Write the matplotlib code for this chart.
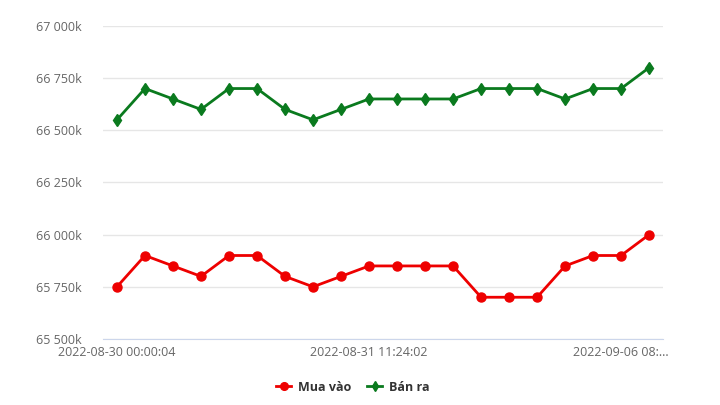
import matplotlib.pyplot as plt
from matplotlib.ticker import FuncFormatter

# gia vang (nghin dong)
times = ["2022-08-30 00:00:04"] + [""] * 8 + ["2022-08-31 11:24:02"] + [""] * 8 + ["2022-09-06 08:..."] + [""]
mua_vao = [65750, 65900, 65850, 65800, 65900, 65900, 65800, 65750, 65800, 65850,
           65850, 65850, 65850, 65700, 65700, 65700, 65850, 65900, 65900, 66000]
ban_ra = [66550, 66700, 66650, 66600, 66700, 66700, 66600, 66550, 66600, 66650,
          66650, 66650, 66650, 66700, 66700, 66700, 66650, 66700, 66700, 66800]

plt.rcParams['font.family'] = ['Open Sans', 'DejaVu Sans']

fig = plt.figure(figsize=(7.2, 4.05), dpi=100)
ax = fig.add_axes([0.143, 0.163, 0.778, 0.773])

x = list(range(len(times)))
ax.plot(x, mua_vao, color='#ee0000', linewidth=2, marker='o', markersize=6.5, label='Mua vào', zorder=3)
ax.plot(x, ban_ra, color='#0a7a1e', linewidth=2, marker='d', markersize=6, label='Bán ra', zorder=3)

ax.set_xlim(-0.5, len(times) - 0.5)
ax.set_ylim(65500, 67000)
ax.set_yticks(range(65500, 67001, 250))
ax.yaxis.set_major_formatter(FuncFormatter(lambda v, p: f"{int(v):,}k".replace(",", " ")))
tick_idx = [i for i, t in enumerate(times) if t]
ax.set_xticks(tick_idx)
ax.set_xticklabels([times[i] for i in tick_idx])

ax.grid(axis='y', color='#e6e6e6', linewidth=1)
ax.set_axisbelow(True)
for s in ['top', 'right', 'left']:
    ax.spines[s].set_visible(False)
ax.spines['bottom'].set_color('#ccd6eb')
ax.tick_params(axis='both', length=0, labelsize=9, colors='#666666')
ax.tick_params(axis='y', pad=15)
ax.tick_params(axis='x', pad=5)

leg = fig.legend(loc='lower center', bbox_to_anchor=(0.49, 0.0), ncol=2, frameon=False,
                 prop={'size': 9, 'weight': 'bold'}, handlelength=1.2, columnspacing=1.3,
                 handletextpad=0.5, markerscale=0.85)
for t in leg.get_texts():
    t.set_color('#333333')

fig.savefig('out.png')
